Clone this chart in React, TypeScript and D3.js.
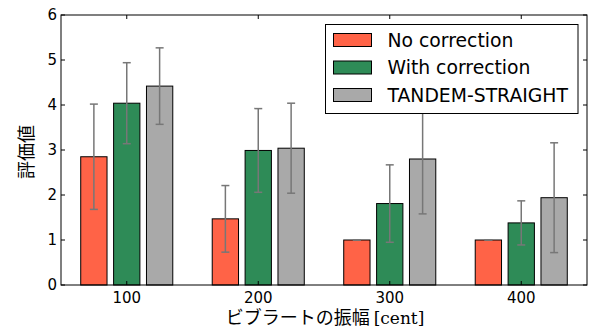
import React from "react";
import * as d3 from "d3";

const categories = ["100", "200", "300", "400"];
const seriesNames = ["No correction", "With correction", "TANDEM-STRAIGHT"];
const seriesColors = ["#FF6347", "#2E8B57", "#A9A9A9"];
const noCorrection = [2.85, 1.47, 1.0, 1.0];
const noCorrectionErr = [1.17, 0.74, 0.0, 0.0];
const withCorrection = [4.04, 2.99, 1.81, 1.38];
const withCorrectionErr = [0.9, 0.93, 0.86, 0.49];
const tandem = [4.42, 3.04, 2.8, 1.94];
const tandemErr = [0.85, 1.0, 1.22, 1.22];
const yTicks = [0, 1, 2, 3, 4, 5, 6];

const W = 590;
const H = 331;
const M = { left: 61, right: 587, top: 15, bottom: 285 };

export default function App() {
  const x = d3.scaleLinear().domain([0.5, 4.5]).range([M.left, M.right]);
  const y = d3.scaleLinear().domain([0, 6]).range([M.bottom, M.top]);
  const values = [noCorrection, withCorrection, tandem];
  const errs = [noCorrectionErr, withCorrectionErr, tandemErr];
  const barW = 0.2;
  const offs = [-0.25, 0, 0.25];
  const font = "DejaVu Sans, sans-serif";
  const tickLen = 4;

  const bars: any[] = [];
  const errBars: any[] = [];
  values.forEach((vals, s) => {
    vals.forEach((v, i) => {
      const c = i + 1 + offs[s];
      const x0 = x(c - barW / 2);
      const x1 = x(c + barW / 2);
      bars.push(
        <rect key={`b${s}-${i}`} x={x0} y={y(v)} width={x1 - x0} height={y(0) - y(v)}
          fill={seriesColors[s]} stroke="#000" strokeWidth={1} />
      );
      const e = errs[s][i];
      const cx = x(c);
      const yt = y(v + e);
      const yb = y(v - e);
      errBars.push(
        <g key={`e${s}-${i}`} stroke="#777" strokeWidth={1.5}>
          <line x1={cx} x2={cx} y1={yt} y2={yb} />
          <line x1={cx - 4} x2={cx + 4} y1={yt} y2={yt} />
          <line x1={cx - 4} x2={cx + 4} y1={yb} y2={yb} />
        </g>
      );
    });
  });

  const lg = { x: 325.5, y: 24.5, w: 252.5, h: 89 };

  return (
    <div style={{ position: "absolute", left: 0, top: 0 }}>
      <svg width={W} height={H} style={{ display: "block", background: "#fff" }}>
        {bars}
        {errBars}
        {yTicks.map((t) => (
          <g key={`yt${t}`} stroke="#000" strokeWidth={1}>
            <line x1={M.left} x2={M.left + tickLen} y1={y(t)} y2={y(t)} />
            <line x1={M.right} x2={M.right - tickLen} y1={y(t)} y2={y(t)} />
          </g>
        ))}
        {categories.map((c, i) => (
          <g key={`xt${c}`} stroke="#000" strokeWidth={1}>
            <line x1={x(i + 1)} x2={x(i + 1)} y1={M.bottom} y2={M.bottom - tickLen} />
            <line x1={x(i + 1)} x2={x(i + 1)} y1={M.top} y2={M.top + tickLen} />
          </g>
        ))}
        <rect x={M.left} y={M.top} width={M.right - M.left} height={M.bottom - M.top}
          fill="none" stroke="#000" strokeWidth={1} />
        {yTicks.map((t) => (
          <text key={`yl${t}`} x={M.left - 4} y={y(t)} dy="0.36em" textAnchor="end"
            fontFamily={font} fontSize={15} fill="#000">{t}</text>
        ))}
        {categories.map((c, i) => (
          <text key={`xl${c}`} x={x(i + 1)} y={303} textAnchor="middle"
            fontFamily={font} fontSize={15} fill="#000">{c}</text>
        ))}
        <rect x={lg.x} y={lg.y} width={lg.w} height={lg.h} fill="#fff" stroke="#000" strokeWidth={1} />
        {seriesNames.map((n, s) => (
          <g key={`lg${s}`}>
            <rect x={333.5} y={33.5 + s * 27.5} width={38} height={13}
              fill={seriesColors[s]} stroke="#000" strokeWidth={1} />
            <text x={387.5} y={40 + s * 27.5} dy="0.36em" fontFamily={font} fontSize={18.8} fill="#000">{n}</text>
          </g>
        ))}
        <text x={325} y={324} textAnchor="middle" fontSize={18} fill="#000">
          <tspan fontFamily="Noto Sans CJK JP, sans-serif">ビブラートの振幅 </tspan>
          <tspan fontFamily="DejaVu Serif, serif" fontSize={17}>[cent]</tspan>
        </text>
        <text transform={`translate(33,152) rotate(-90)`} textAnchor="middle"
          fontFamily="Noto Sans CJK JP, sans-serif" fontSize={18} fill="#000">評価値</text>
      </svg>
    </div>
  );
}
